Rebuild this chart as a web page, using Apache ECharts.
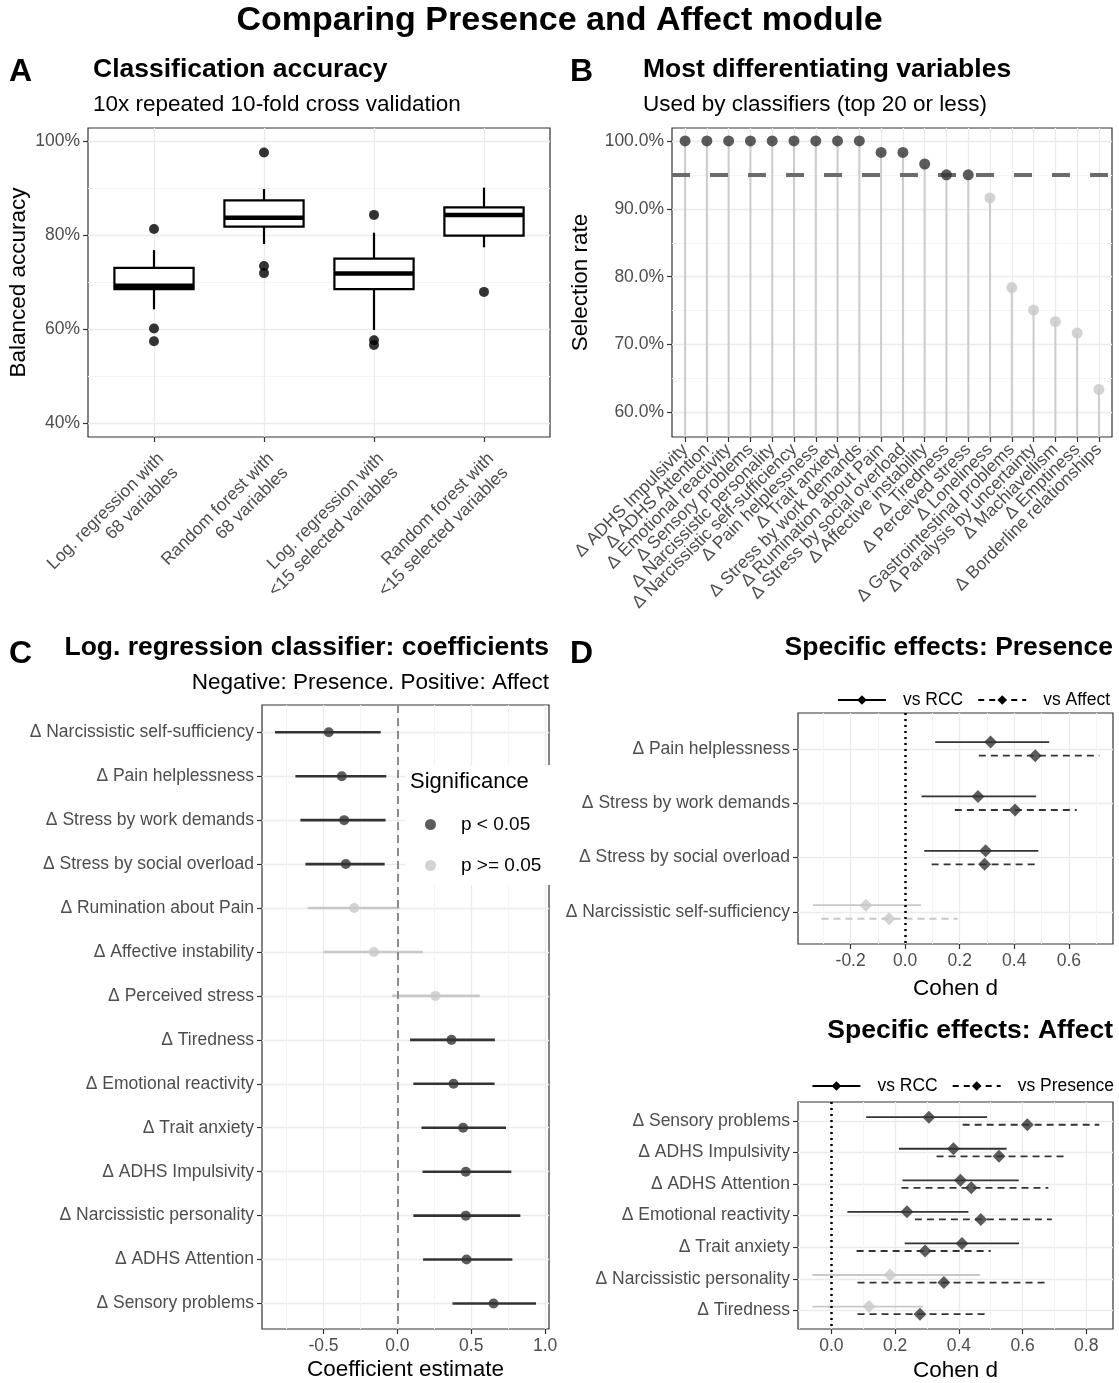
<!DOCTYPE html>
<html>
<head>
<meta charset="utf-8">
<title>Comparing Presence and Affect module</title>
<script src="https://cdn.jsdelivr.net/npm/echarts@6/dist/echarts.min.js"></script>
<style>
  html, body { margin: 0; padding: 0; background: #fff; }
  #main { width: 1119px; height: 1383px; }
</style>
</head>
<body>
<div id="main"></div>
<script>
// ---------- A: classification accuracy (box stats, %) ----------
var modelNames = ['Log. regression with\n68 variables', 'Random forest with\n68 variables',
                  'Log. regression with\n<15 selected variables', 'Random forest with\n<15 selected variables'];
var boxLower  = [64.2, 78.1, 59.8, 77.4];
var boxQ1     = [68.5, 81.8, 68.5, 79.9];
var boxMedian = [69.2, 83.7, 71.8, 84.3];
var boxQ3     = [73.0, 87.4, 75.0, 85.9];
var boxUpper  = [76.8, 89.8, 80.5, 90.1];
var outlierModel = [0, 0, 0, 1, 1, 1, 2, 2, 2, 3];
var outlierValue = [81.3, 60.1, 57.4, 97.6, 73.4, 71.9, 84.3, 57.6, 56.6, 67.9];
var accTicks = [40, 60, 80, 100];
var accMinor = [50, 70, 90];

// ---------- B: selection rate ----------
var varNames = ['Δ ADHS Impulsivity', 'Δ ADHS Attention', 'Δ Emotional reactivity', 'Δ Sensory problems',
  'Δ Narcissistic personality', 'Δ Narcissistic self-sufficiency', 'Δ Pain helplessness', 'Δ Trait anxiety',
  'Δ Stress by work demands', 'Δ Rumination about Pain', 'Δ Stress by social overload', 'Δ Affective instability',
  'Δ Tiredness', 'Δ Perceived stress', 'Δ Loneliness', 'Δ Gastrointestinal problems', 'Δ Paralysis by uncertainty',
  'Δ Machiavellism', 'Δ Emptiness', 'Δ Borderline relationships'];
var selectionRate = [100, 100, 100, 100, 100, 100, 100, 100, 100, 98.3, 98.3, 96.6, 95.0, 95.0, 91.6, 78.4, 75.1, 73.4, 71.7, 63.4];
var selectionCutoff = 95;
var rateTicks = [60, 70, 80, 90, 100];
var rateMinor = [65, 75, 85, 95];

// ---------- C: log. regression coefficients ----------
var coefNames = ['Δ Narcissistic self-sufficiency', 'Δ Pain helplessness', 'Δ Stress by work demands',
  'Δ Stress by social overload', 'Δ Rumination about Pain', 'Δ Affective instability', 'Δ Perceived stress',
  'Δ Tiredness', 'Δ Emotional reactivity', 'Δ Trait anxiety', 'Δ ADHS Impulsivity', 'Δ Narcissistic personality',
  'Δ ADHS Attention', 'Δ Sensory problems'];
var coefEst = [-0.464, -0.376, -0.36, -0.349, -0.292, -0.159, 0.258, 0.366, 0.38, 0.445, 0.463, 0.463, 0.468, 0.651];
var coefLo  = [-0.828, -0.69, -0.656, -0.622, -0.606, -0.5, -0.036, 0.086, 0.108, 0.163, 0.17, 0.108, 0.174, 0.373];
var coefHi  = [-0.113, -0.075, -0.08, -0.086, 0.013, 0.172, 0.558, 0.66, 0.658, 0.735, 0.771, 0.832, 0.778, 0.938];
var coefTicks = [-0.5, 0, 0.5, 1];
var coefMinor = [-0.75, -0.25, 0.25, 0.75];

// ---------- D: specific effects, Presence ----------
var presNames = ['Δ Pain helplessness', 'Δ Stress by work demands', 'Δ Stress by social overload', 'Δ Narcissistic self-sufficiency'];
var presRcc   = [0.313, 0.267, 0.295, -0.144];
var presRccLo = [0.11, 0.06, 0.07, -0.338];
var presRccHi = [0.528, 0.48, 0.488, 0.058];
var presAff   = [0.477, 0.403, 0.291, -0.059];
var presAffLo = [0.27, 0.182, 0.097, -0.307];
var presAffHi = [0.712, 0.629, 0.491, 0.192];
var presTicks = [-0.2, 0, 0.2, 0.4, 0.6];
var presMinor = [-0.3, -0.1, 0.1, 0.3, 0.5, 0.7];

// ---------- D: specific effects, Affect ----------
var affNames = ['Δ Sensory problems', 'Δ ADHS Impulsivity', 'Δ ADHS Attention', 'Δ Emotional reactivity',
  'Δ Trait anxiety', 'Δ Narcissistic personality', 'Δ Tiredness'];
var affRcc    = [0.306, 0.383, 0.405, 0.237, 0.41, 0.184, 0.118];
var affRccLo  = [0.109, 0.212, 0.223, 0.05, 0.23, -0.06, -0.06];
var affRccHi  = [0.489, 0.55, 0.588, 0.43, 0.589, 0.467, 0.288];
var affPres   = [0.615, 0.526, 0.439, 0.469, 0.294, 0.353, 0.278];
var affPresLo = [0.412, 0.33, 0.22, 0.262, 0.079, 0.082, 0.082];
var affPresHi = [0.841, 0.739, 0.681, 0.692, 0.5, 0.671, 0.492];
var affTicks = [0, 0.2, 0.4, 0.6, 0.8];
var affMinor = [-0.1, 0.1, 0.3, 0.5, 0.7];

var DARK = '#333333', LIGHT = '#c8c8c8';
var FONT = '"Liberation Sans", Arial, Helvetica, sans-serif';
var TICK_FS = 17.5, AXIS_FS = 22.5;

function idx(arr) { return arr.map(function (_, i) { return i; }); }
function byName(names) { return function (v) { return names[Math.round(v)] || ''; }; }
function oneDec(v) { return v.toFixed(1); }

function mainAxis(grid, min, max, ticks, fmt, label, extra) {
  var lab = { show: true, customValues: ticks, formatter: fmt, color: '#4d4d4d', fontSize: TICK_FS, margin: 8,
              hideOverlap: false };
  for (var k in label) lab[k] = label[k];
  var a = {
    type: 'value', gridIndex: grid, min: min, max: max,
    axisLine: { show: false, onZero: false },
    axisTick: { show: true, customValues: ticks, length: 5, lineStyle: { color: '#333', width: 1.2 } },
    axisLabel: lab,
    splitLine: { show: true, lineStyle: { color: '#ebebeb', width: 1.3 } },
    nameTextStyle: { color: '#000', fontSize: AXIS_FS }
  };
  for (var e in extra) a[e] = extra[e];
  return a;
}
function minorAxis(grid, min, max, ticks, extra) {
  var a = {
    type: 'value', gridIndex: grid, min: min, max: max,
    axisLine: { show: false, onZero: false },
    axisTick: { show: false, customValues: ticks },
    axisLabel: { show: false, customValues: ticks },
    splitLine: { show: true, lineStyle: { color: '#f4f4f4', width: 1 } }
  };
  for (var e in extra) a[e] = extra[e];
  return a;
}

function crossesZero(lo, hi) { return lo < 0 && hi > 0; }

// horizontal CI segments, data item = [lo, hi, yPos]
function ciSeries(xi, yi, lo, hi, offset, dashed, width) {
  return {
    type: 'custom', xAxisIndex: xi, yAxisIndex: yi, z: 3,
    encode: { x: [0, 1], y: 2 },
    data: lo.map(function (l, i) { return [l, hi[i], i + offset]; }),
    renderItem: function (params, api) {
      var a = api.coord([api.value(0), api.value(2)]);
      var b = api.coord([api.value(1), api.value(2)]);
      var gray = crossesZero(api.value(0), api.value(1));
      return {
        type: 'line',
        shape: { x1: a[0], y1: a[1], x2: b[0], y2: b[1] },
        style: { stroke: gray ? LIGHT : DARK, lineWidth: width, lineDash: dashed ? [7, 5] : null }
      };
    }
  };
}
function diamondSeries(xi, yi, est, lo, hi, offset) {
  return {
    type: 'scatter', xAxisIndex: xi, yAxisIndex: yi, z: 4,
    symbol: 'diamond', symbolSize: 13,
    data: est.map(function (v, i) {
      return { value: [v, i + offset], itemStyle: { color: crossesZero(lo[i], hi[i]) ? LIGHT : DARK } };
    })
  };
}
function zeroLine(xi, yi, style) {
  return {
    type: 'line', xAxisIndex: xi, yAxisIndex: yi, data: [],
    markLine: { silent: true, symbol: 'none', label: { show: false }, lineStyle: style, data: [{ xAxis: 0 }] }
  };
}

var chart = echarts.init(document.getElementById('main'));

var titleStyle = { fontSize: 26.5, fontWeight: 'bold', color: '#000' };
var subStyle = { fontSize: 22.5, fontWeight: 'normal', color: '#000' };
var letterStyle = { fontSize: 32, fontWeight: 'bold', color: '#000' };

// label positions for B padded with empty slots at both ends so the
// first/last names are not dropped by the min/max overlap check
var varLabelPos = [-0.6].concat(idx(varNames), [19.6]);

var option = {
  animation: false,
  backgroundColor: '#fff',
  textStyle: { fontFamily: FONT },
  title: [
    { text: 'Comparing Presence and Affect module', left: 'center', top: 4, padding: 0,
      textStyle: { fontSize: 34, fontWeight: 'bold', color: '#000' } },
    { text: 'A', left: 9, top: 56, padding: 0, textStyle: letterStyle },
    { text: 'Classification accuracy', left: 93, top: 56, padding: 0, textStyle: titleStyle },
    { text: '10x repeated 10-fold cross validation', left: 93, top: 93, padding: 0, textStyle: subStyle },
    { text: 'B', left: 570, top: 56, padding: 0, textStyle: letterStyle },
    { text: 'Most differentiating variables', left: 643, top: 56, padding: 0, textStyle: titleStyle },
    { text: 'Used by classifiers (top 20 or less)', left: 643, top: 93, padding: 0, textStyle: subStyle },
    { text: 'C', left: 9, top: 638, padding: 0, textStyle: letterStyle },
    { text: 'Log. regression classifier: coefficients', right: 570, top: 634, padding: 0, textStyle: titleStyle },
    { text: 'Negative: Presence. Positive: Affect', right: 570, top: 671, padding: 0, textStyle: subStyle },
    { text: 'Significance', left: 410, top: 771, padding: 0, z: 10,
      textStyle: { fontSize: 22, fontWeight: 'normal', color: '#000' } },
    { text: 'D', left: 570, top: 638, padding: 0, textStyle: letterStyle },
    { text: 'Specific effects: Presence', right: 6, top: 634, padding: 0, textStyle: titleStyle },
    { text: 'Specific effects: Affect', right: 6, top: 1017, padding: 0, textStyle: titleStyle }
  ],
  legend: [
    { data: ['p < 0.05', 'p >= 0.05'], orient: 'vertical', left: 405, top: 765, z: 5,
      padding: [50, 10, 10, 20], itemGap: 22, itemWidth: 11, itemHeight: 11, icon: 'circle',
      backgroundColor: '#fff', selectedMode: false,
      textStyle: { fontSize: 19, color: '#000', padding: [0, 0, 0, 20] } },
    { data: ['vs RCC', 'vs Affect'], right: 4, top: 686, itemWidth: 48, itemHeight: 12, itemGap: 14,
      selectedMode: false, textStyle: { fontSize: 17.5, color: '#000', padding: [0, 0, 0, 12] } },
    { data: ['vs RCC', 'vs Presence'], right: 0, top: 1072, itemWidth: 48, itemHeight: 12, itemGap: 14,
      selectedMode: false, textStyle: { fontSize: 17.5, color: '#000', padding: [0, 0, 0, 12] } }
  ],
  grid: [
    { left: 88, top: 128, width: 462, height: 309, show: true, borderColor: '#333', borderWidth: 1.2, backgroundColor: '#fff' },
    { left: 672, top: 128, width: 440, height: 309, show: true, borderColor: '#333', borderWidth: 1.2, backgroundColor: '#fff' },
    { left: 262, top: 705, width: 287, height: 624, show: true, borderColor: '#333', borderWidth: 1.2, backgroundColor: '#fff' },
    { left: 798, top: 713, width: 315, height: 231, show: true, borderColor: '#333', borderWidth: 1.2, backgroundColor: '#fff' },
    { left: 798, top: 1102, width: 315, height: 228, show: true, borderColor: '#333', borderWidth: 1.2, backgroundColor: '#fff' }
  ],
  xAxis: [
    mainAxis(0, -0.6, 3.6, idx(modelNames), byName(modelNames),
      { rotate: 45, verticalAlign: 'top', lineHeight: 20, margin: 12 }),
    mainAxis(1, -0.6, 19.6, idx(varNames), byName(varNames),
      { rotate: 45, interval: 0, margin: 10, customValues: varLabelPos }),
    mainAxis(2, -0.916, 1.026, coefTicks, oneDec, {},
      { name: 'Coefficient estimate', nameLocation: 'middle', nameGap: 29 }),
    minorAxis(2, -0.916, 1.026, coefMinor, { position: 'top' }),
    mainAxis(3, -0.393, 0.762, presTicks, oneDec, {},
      { name: 'Cohen d', nameLocation: 'middle', nameGap: 33 }),
    minorAxis(3, -0.393, 0.762, presMinor, { position: 'top' }),
    mainAxis(4, -0.105, 0.884, affTicks, oneDec, {},
      { name: 'Cohen d', nameLocation: 'middle', nameGap: 30 }),
    minorAxis(4, -0.105, 0.884, affMinor, { position: 'top' })
  ],
  yAxis: [
    mainAxis(0, 37, 102.8, accTicks, function (v) { return v + '%'; }, {},
      { name: 'Balanced accuracy', nameLocation: 'middle', nameGap: 58 }),
    minorAxis(0, 37, 102.8, accMinor, { position: 'right' }),
    mainAxis(1, 56.4, 101.9, rateTicks, function (v) { return v.toFixed(1) + '%'; }, {},
      { name: 'Selection rate', nameLocation: 'middle', nameGap: 80 }),
    minorAxis(1, 56.4, 101.9, rateMinor, { position: 'right' }),
    mainAxis(2, -0.62, 13.58, idx(coefNames), byName(coefNames), { interval: 0 }, { inverse: true }),
    mainAxis(3, -0.66, 3.59, idx(presNames), byName(presNames), { interval: 0 }, { inverse: true }),
    mainAxis(4, -0.6, 6.59, idx(affNames), byName(affNames), { interval: 0 }, { inverse: true })
  ],
  series: [
    // A: boxes
    {
      type: 'custom', xAxisIndex: 0, yAxisIndex: 0, z: 3,
      encode: { x: 0, y: [1, 2, 3, 4, 5] },
      data: modelNames.map(function (_, i) { return [i, boxLower[i], boxQ1[i], boxMedian[i], boxQ3[i], boxUpper[i]]; }),
      renderItem: function (params, api) {
        var x = api.value(0);
        var lo = api.coord([x, api.value(1)]), q1 = api.coord([x, api.value(2)]);
        var md = api.coord([x, api.value(3)]), q3 = api.coord([x, api.value(4)]);
        var hi = api.coord([x, api.value(5)]);
        var w = api.size([1, 0])[0] * 0.72;
        var s = { stroke: '#000', lineWidth: 2.2 };
        return { type: 'group', children: [
          { type: 'line', shape: { x1: lo[0], y1: lo[1], x2: q1[0], y2: q1[1] }, style: s },
          { type: 'line', shape: { x1: q3[0], y1: q3[1], x2: hi[0], y2: hi[1] }, style: s },
          { type: 'rect', shape: { x: q3[0] - w / 2, y: q3[1], width: w, height: q1[1] - q3[1] },
            style: { fill: '#fff', stroke: '#000', lineWidth: 2.2 } },
          { type: 'line', shape: { x1: md[0] - w / 2, y1: md[1], x2: md[0] + w / 2, y2: md[1] },
            style: { stroke: '#000', lineWidth: 4.5 } }
        ] };
      }
    },
    {
      type: 'scatter', xAxisIndex: 0, yAxisIndex: 0, z: 4, symbolSize: 10,
      itemStyle: { color: '#000' },
      data: outlierModel.map(function (m, i) { return [m, outlierValue[i]]; })
    },
    // B: lollipop stems, cutoff, dots
    {
      type: 'custom', xAxisIndex: 1, yAxisIndex: 2, z: 2,
      encode: { x: 0, y: 1 },
      data: selectionRate.map(function (v, i) { return [i, v]; }),
      renderItem: function (params, api) {
        var p = api.coord([api.value(0), api.value(1)]);
        var bottom = params.coordSys.y + params.coordSys.height;
        return { type: 'line', shape: { x1: p[0], y1: bottom, x2: p[0], y2: p[1] },
          style: { stroke: '#cccccc', lineWidth: 2 } };
      },
      markLine: {
        silent: true, symbol: 'none', label: { show: false }, z: 3,
        lineStyle: { color: '#6b6b6b', width: 4, type: [18, 20] },
        data: [{ yAxis: selectionCutoff }]
      }
    },
    {
      type: 'scatter', xAxisIndex: 1, yAxisIndex: 2, z: 5, symbolSize: 11,
      data: selectionRate.map(function (v, i) {
        return { value: [i, v], itemStyle: { color: v >= selectionCutoff ? DARK : LIGHT } };
      })
    },
    // C: coefficients
    ciSeries(2, 4, coefLo, coefHi, 0, false, 2.6),
    zeroLine(2, 4, { color: '#8c8c8c', width: 2, type: [8, 5] }),
    {
      type: 'scatter', name: 'p < 0.05', xAxisIndex: 2, yAxisIndex: 4, z: 4, symbolSize: 10,
      itemStyle: { color: DARK },
      data: coefEst.map(function (v, i) { return [v, i]; }).filter(function (d, i) { return !crossesZero(coefLo[i], coefHi[i]); })
    },
    {
      type: 'scatter', name: 'p >= 0.05', xAxisIndex: 2, yAxisIndex: 4, z: 4, symbolSize: 10,
      itemStyle: { color: LIGHT },
      data: coefEst.map(function (v, i) { return [v, i]; }).filter(function (d, i) { return crossesZero(coefLo[i], coefHi[i]); })
    },
    // D top: Presence
    ciSeries(4, 5, presRccLo, presRccHi, -0.125, false, 1.8),
    ciSeries(4, 5, presAffLo, presAffHi, 0.125, true, 1.8),
    diamondSeries(4, 5, presRcc, presRccLo, presRccHi, -0.125),
    diamondSeries(4, 5, presAff, presAffLo, presAffHi, 0.125),
    zeroLine(4, 5, { color: '#000', width: 2.5, type: [2, 4] }),
    // D bottom: Affect
    ciSeries(6, 6, affRccLo, affRccHi, -0.12, false, 1.8),
    ciSeries(6, 6, affPresLo, affPresHi, 0.12, true, 1.8),
    diamondSeries(6, 6, affRcc, affRccLo, affRccHi, -0.12),
    diamondSeries(6, 6, affPres, affPresLo, affPresHi, 0.12),
    zeroLine(6, 6, { color: '#000', width: 2.5, type: [2, 4] }),
    // legend keys for D
    { type: 'line', name: 'vs RCC', xAxisIndex: 4, yAxisIndex: 5, data: [], symbol: 'diamond', symbolSize: 12,
      lineStyle: { color: '#000', width: 2 }, itemStyle: { color: '#000' } },
    { type: 'line', name: 'vs Affect', xAxisIndex: 4, yAxisIndex: 5, data: [], symbol: 'diamond', symbolSize: 12,
      lineStyle: { color: '#000', width: 2, type: [6, 5] }, itemStyle: { color: '#000' } },
    { type: 'line', name: 'vs Presence', xAxisIndex: 6, yAxisIndex: 6, data: [], symbol: 'diamond', symbolSize: 12,
      lineStyle: { color: '#000', width: 2, type: [6, 5] }, itemStyle: { color: '#000' } }
  ]
};

chart.setOption(option);
</script>
</body>
</html>
